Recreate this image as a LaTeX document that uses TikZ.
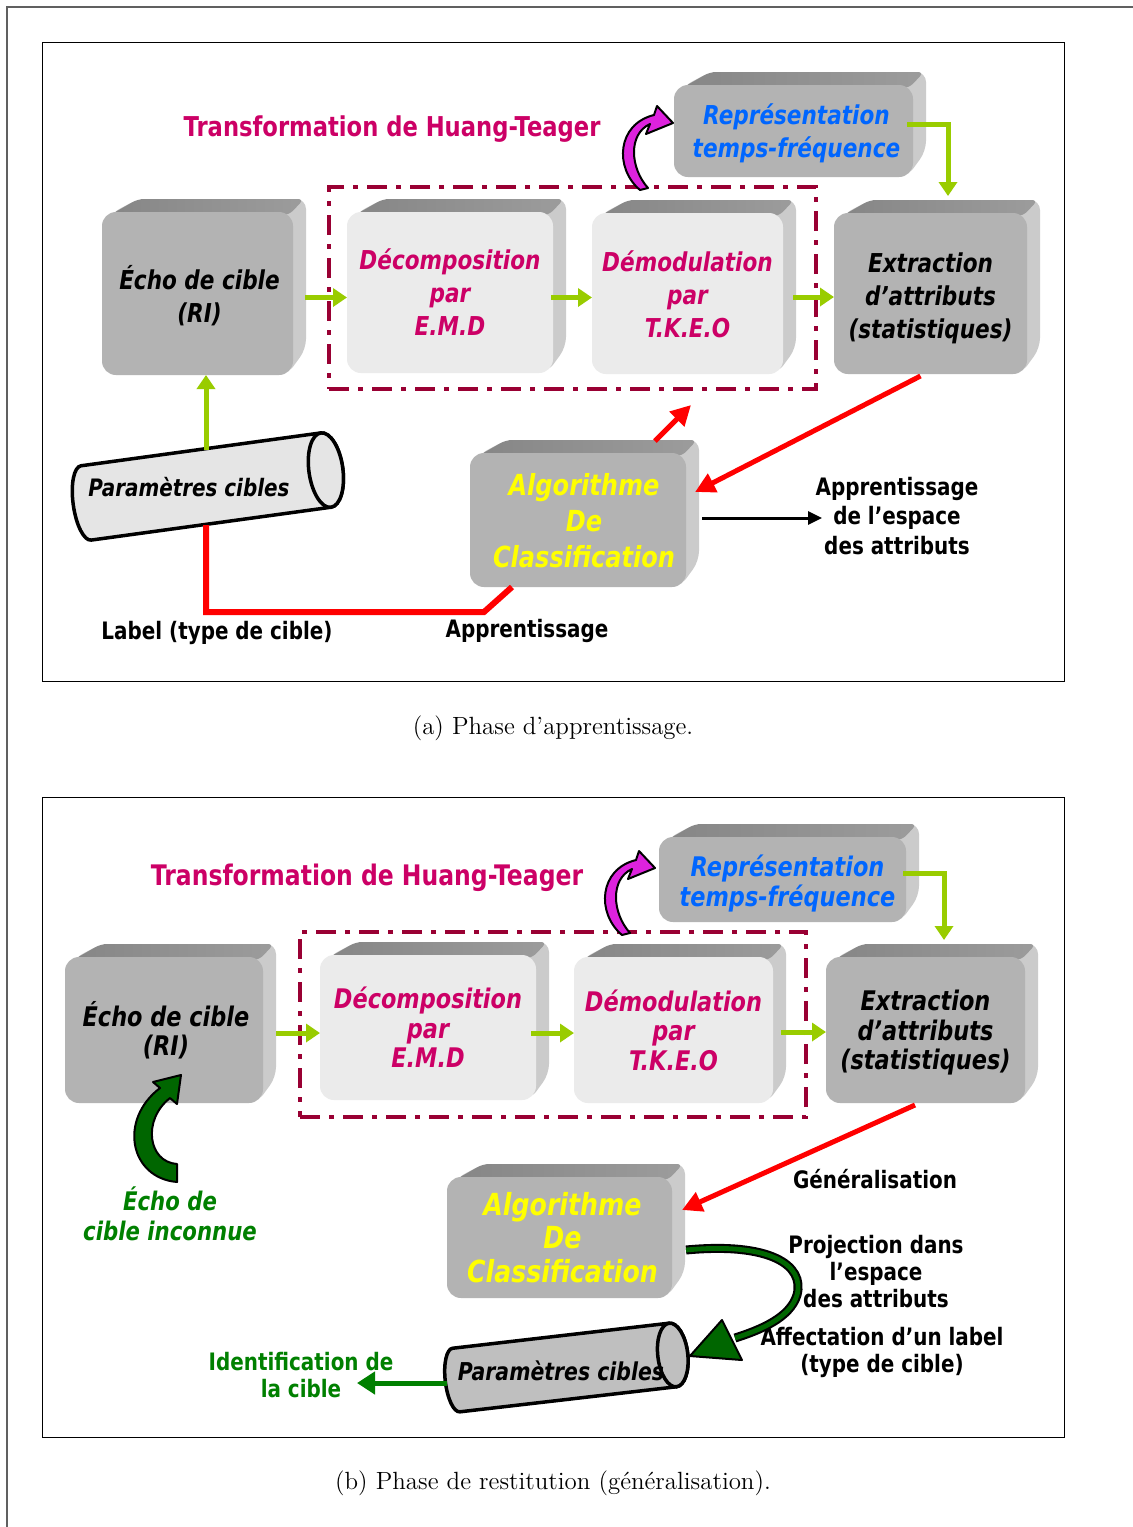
\documentclass[tikz,border=0pt]{standalone}
\usepackage{fontspec}
\newfontfamily\dv{DejaVu Sans}[FakeStretch=0.83, BoldFont={DejaVu Sans Bold}, ItalicFont={DejaVu Sans Oblique}, BoldItalicFont={DejaVu Sans Bold Oblique}]
\usetikzlibrary{arrows.meta,fit,calc}
\definecolor{magtxt}{HTML}{CC0066}
\definecolor{bluetxt}{HTML}{0066FF}
\definecolor{yeltxt}{HTML}{FFFF00}
\definecolor{grtxt}{HTML}{008000}
\definecolor{dkgreen}{HTML}{006600}
\definecolor{ygreen}{HTML}{99CC00}
\definecolor{dashcol}{HTML}{990033}
\definecolor{facedark}{HTML}{B3B3B3}
\definecolor{facelight}{HTML}{EBEBEB}
\definecolor{topL}{HTML}{868686}
\definecolor{topR}{HTML}{9C9C9C}
\definecolor{sidegray}{HTML}{CBCBCB}
\definecolor{magarrow}{HTML}{DD22DD}
\definecolor{framegray}{HTML}{606060}
\definecolor{redc}{HTML}{FF0000}

\newcommand\cubebox[8]{%
  \fill[sidegray, rounded corners=5pt] (#2+8,#3+2) -- (#2+36,#3-13) -- (#4+13,#3-13) -- (#4+13,#5-26) -- (#4-6,#5) -- (#4-6,#3+2) -- cycle;
  \shade[left color=topL, right color=topR, rounded corners=3pt] (#2+8,#3+3) -- (#2+36,#3-13) -- (#4+11,#3-13) -- (#4-4,#3+3) -- cycle;
  \node[#6, fit={(#2,#3) (#4,#5)}] (#1) {};
  \node[#7, align=center, inner sep=0pt] (#1t) at (#1.center) {#8};
}
\newcommand\cylinderdraw[8]{%
  \begin{scope}[shift={(#1,#2)}, rotate=#3]
    \filldraw[cylstyle, fill=#8] (#4,-#5) -- (-#4,-#5) arc[start angle=270, end angle=90, x radius=#6, y radius=#5] -- (#4,#5) arc[start angle=90, end angle=-90, x radius=#7, y radius=#5] -- cycle;
    \filldraw[cylstyle, fill=#8] (#4,0) ellipse[x radius=#7, y radius=#5];
  \end{scope}}

\begin{document}
\begin{tikzpicture}[x=0.5pt, y=-0.5pt,
  face/.style={inner sep=0pt, outer sep=0pt, rounded corners=7pt},
  darkface/.style={face, fill=facedark},
  lightface/.style={face, fill=facelight},
  bt/.style={font=\dv\bfseries\itshape\fontsize{13}{16.5}\selectfont},
  btb/.style={font=\dv\bfseries\itshape\fontsize{13.5}{14.75}\selectfont},
  kt/.style={bt, text=black}, mt/.style={bt, text=magtxt}, rt/.style={bt, text=bluetxt},
  yt/.style={font=\dv\bfseries\itshape\fontsize{14.5}{18}\selectfont, text=yeltxt},
  ktb/.style={btb, text=black}, mtb/.style={btb, text=magtxt}, rtb/.style={btb, text=bluetxt},
  ytb/.style={font=\dv\bfseries\itshape\fontsize{15.2}{16.75}\selectfont, text=yeltxt},
  lbl/.style={font=\dv\bfseries\fontsize{12}{13.5}\selectfont, align=center, inner sep=0pt},
  titletxt/.style={font=\dv\bfseries\fontsize{13.65}{15}\selectfont, text=magtxt, inner sep=0pt},
  cyltxt/.style={font=\dv\bfseries\itshape\fontsize{12}{14}\selectfont, inner sep=0pt},
  caption/.style={font=\fontsize{12.45}{14}\selectfont, inner sep=0pt},
  panel/.style={draw=black, line width=0.5pt, inner sep=0pt},
  dashbox/.style={draw=dashcol, line width=2pt, dash pattern=on 10pt off 4.5pt on 2.5pt off 4.5pt, inner sep=0pt},
  cylstyle/.style={draw=black, line width=1.75pt},
  garrow/.style={draw=ygreen, line width=2.5pt, line join=miter, -{Triangle[length=7pt, width=9pt]}},
  rarrow/.style={draw=redc, line width=2.5pt, -{Triangle[length=10pt, width=10pt]}},
  redline/.style={draw=redc, line width=3pt, line join=miter},
  karrow/.style={draw=black, line width=1.5pt, -{Triangle[length=7pt, width=6.5pt]}},
  idarrow/.style={draw=grtxt, line width=2.5pt, -{Triangle[length=9pt, width=11pt]}},
  blockarrow/.style={draw=black, line width=1pt, line join=round}
]
\useasboundingbox (0,0) rectangle (1133,1527);
\fill[white] (0,0) rectangle (1133,1527);
\draw[framegray, line width=0.75pt] (7,1527) -- (7,7) -- (1133,7);

% ---------------- panel (a) ----------------
\node[panel, fit={(42,42) (1064,681)}] (panelA) {};
\node[dashbox, fit={(329,187) (816,389)}] (dashA) {};

\cubebox{repA}{674}{85}{913}{177}{darkface}{rt, xshift=1.5pt, yshift=-1pt}{Représentation\\temps-fréquence}
\cubebox{echoA}{102}{212}{293}{375}{darkface}{kt, xshift=1pt, yshift=-1pt}{Écho de cible\\(RI)}
\cubebox{decA}{347}{212}{553}{373}{lightface}{mt}{Décomposition\\par\\E.M.D}
\cubebox{demA}{592}{213}{783}{374}{lightface}{mt, yshift=-0.5pt}{Démodulation\\par\\T.K.E.O}
\cubebox{extA}{834}{213}{1027}{374}{darkface}{kt, yshift=-2.5pt}{Extraction\\d’attributs\\(statistiques)}
\cubebox{algA}{470}{453}{686}{587}{darkface}{yt, xshift=3pt, yshift=-0.5pt}{Algorithme\\De\\Classification}

\cylinderdraw{206}{486.5}{7.8}{121}{37.5}{13}{17}{black!10}
\coordinate (cylAtop) at (206,450);
\coordinate (cylAbot) at (206,525);
\coordinate (redcornerA) at (484,612);
\coordinate (redtipA) at (691,405);
\coordinate (blackTipA) at (822,518);

\node[titletxt] (titleA) at (392,129) {Transformation de Huang-Teager};
\node[cyltxt] (cylAtxt) at (189,487) {Paramètres cibles};
\node[lbl] (labA) at (217,633) {Label (type de cible)};
\node[lbl] (appA) at (527,631) {Apprentissage};
\node[lbl, font=\dv\bfseries\fontsize{12}{14.75}\selectfont] (espA) at (897,516) {Apprentissage\\de l’espace\\des attributs};

\draw[garrow] ($(echoA.east)+(6pt,-2pt)$) -- ($(decA.west)+(0,-2.5pt)$);
\draw[garrow] ($(decA.east)+(-1pt,-2.5pt)$) -- ($(demA.west)+(0,-2pt)$);
\draw[garrow] ($(demA.east)+(5pt,-1.75pt)$) -- ($(extA.west)+(0,-1.75pt)$);
\draw[garrow] ($(repA.east)+(-3pt,3.5pt)$) -| ($(extA.north)+(8.75pt,8.5pt)$);
\draw[garrow] (cylAtop) -- (cylAtop |- echoA.south);

\draw[redline] (cylAbot) |- (redcornerA) -- ($(algA.south)+(-33pt,0)$);
\draw[rarrow] ($(algA.north)+(38.5pt,6pt)$) -- (redtipA);
\draw[rarrow] ($(extA.south)+(-5pt,-1pt)$) -- ($(algA.east)+(4.5pt,14pt)$);
\draw[karrow] ($(algA.east)+(8pt,1pt)$) -- (blackTipA);

% magenta curved arrow (a)
\filldraw[blockarrow, fill=magarrow] (640,190) .. controls (614,168) and (617,124) .. (654,115) -- (657,106) -- (673,123) -- (646,134) -- (650,124) .. controls (628,134) and (630,168) .. (648,188) -- cycle;

\node[caption] (capA) at (553,728) {(a) Phase d’apprentissage.};

% ---------------- panel (b) ----------------
\node[panel, fit={(42,797) (1064,1437)}] (panelB) {};
\node[dashbox, fit={(300,932) (806,1117)}] (dashB) {};

\cubebox{repB}{659}{837}{906}{922}{darkface}{rtb, xshift=2.5pt, yshift=-2pt}{Représentation\\temps-fréquence}
\cubebox{echoB}{65}{957}{263}{1103}{darkface}{ktb, xshift=1pt}{Écho de cible\\(RI)}
\cubebox{decB}{320}{955}{536}{1100}{lightface}{mtb}{Décomposition\\par\\E.M.D}
\cubebox{demB}{574}{957}{773}{1103}{lightface}{mtb}{Démodulation\\par\\T.K.E.O}
\cubebox{extB}{826}{957}{1025}{1103}{darkface}{ktb, yshift=-1.5pt}{Extraction\\d’attributs\\(statistiques)}
\cubebox{algB}{447}{1177}{672}{1298}{darkface}{ytb, xshift=1.5pt}{Algorithme\\De\\Classification}

\cylinderdraw{564.5}{1367.5}{6.6}{109}{32}{11}{15}{black!25}
\coordinate (cylBleft) at (447,1383);
\coordinate (idTip) at (357,1383);

\node[titletxt, font=\dv\bfseries\fontsize{14.15}{15}\selectfont] (titleB) at (367,878) {Transformation de Huang-Teager};
\node[lbl] (genB) at (875,1179) {Généralisation};
\node[lbl] (projB) at (876,1272) {Projection dans\\l’espace\\des attributs};
\node[lbl] (affB) at (882,1352) {Affectation d’un label\\(type de cible)};
\node[lbl, text=grtxt] (idB) at (301,1375) {Identification de\\la cible};
\node[lbl, text=grtxt, font=\dv\bfseries\itshape\fontsize{12.8}{15}\selectfont] (inconnu) at (170,1214) {Écho de\\cible inconnue};

\draw[garrow] ($(echoB.east)+(6.5pt,-1.5pt)$) -- ($(decB.west)+(0,-2.75pt)$);
\draw[garrow] ($(decB.east)+(-2.5pt,-2.75pt)$) -- ($(demB.west)+(0,-1.5pt)$);
\draw[garrow] ($(demB.east)+(4pt,-1pt)$) -- ($(extB.west)+(0,-1pt)$);
\draw[garrow] ($(repB.east)+(-1.5pt,3.25pt)$) -| ($(extB.north)+(9.25pt,8.5pt)$);
\draw[rarrow] ($(extB.south)+(-5.25pt,-1pt)$) -- ($(algB.east)+(5pt,13.75pt)$);
\draw[idarrow] (cylBleft) -- (idTip);

% magenta curved arrow (b)
\begin{scope}[shift={(-18,745)}]
\filldraw[blockarrow, fill=magarrow] (640,190) .. controls (614,168) and (617,124) .. (654,115) -- (657,106) -- (673,123) -- (646,134) -- (650,124) .. controls (628,134) and (630,168) .. (648,188) -- cycle;
\end{scope}

% green curved arrow: unknown echo -> echo box
\filldraw[blockarrow, fill=dkgreen] (177,1182) .. controls (130,1178) and (118,1120) .. (160,1088) -- (153,1082) -- (181,1075) -- (177,1104) -- (170,1098) .. controls (142,1120) and (148,1162) .. (177,1164) -- cycle;

% green curved arrow: algorithm -> cylinder
\coordinate (projStart) at ($(algB.east)+(7pt,-6.25pt)$);
\draw[black, line width=4.5pt] (projStart) .. controls (770,1242) and (805,1265) .. (797,1295) .. controls (790,1318) and (760,1330) .. (735,1338);
\draw[dkgreen, line width=2.4pt] (projStart) .. controls (770,1242) and (805,1265) .. (797,1295) .. controls (790,1318) and (760,1330) .. (735,1338);
\filldraw[blockarrow, fill=dkgreen] (722,1320) -- (690,1356) -- (742,1360) -- cycle;

\node[cyltxt, font=\dv\bfseries\itshape\fontsize{12.3}{14}\selectfont] (cylBtxt) at (561,1371) {Paramètres cibles};

\node[caption] (capB) at (553,1483) {(b) Phase de restitution (généralisation).};
\end{tikzpicture}
\end{document}
